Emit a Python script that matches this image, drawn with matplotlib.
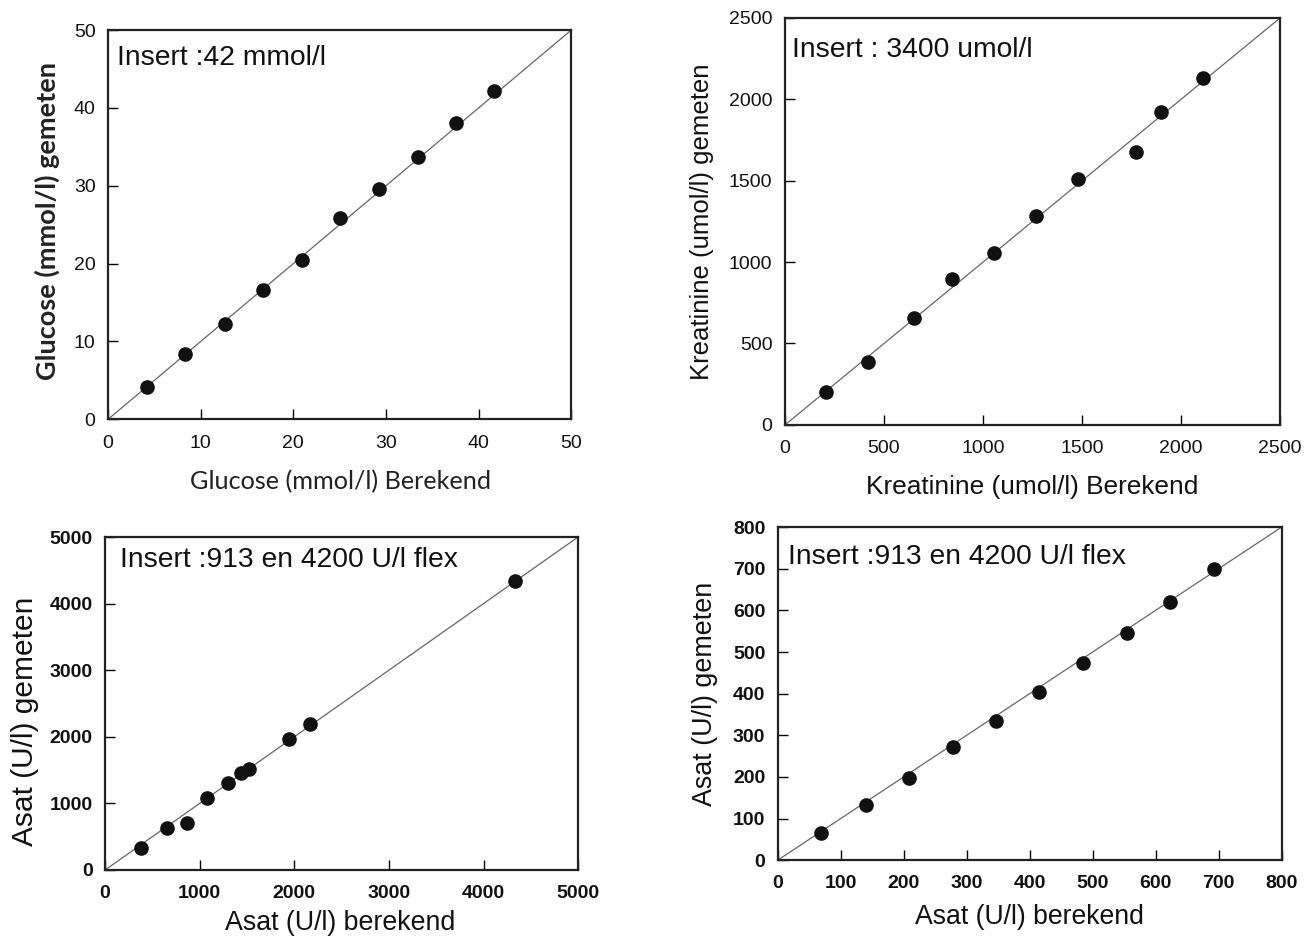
import matplotlib
matplotlib.use("Agg")
import matplotlib.pyplot as plt

# Glucose
glu_x = [4.2, 8.3, 12.6, 16.7, 20.9, 25.0, 29.2, 33.4, 37.6, 41.7]
glu_y = [4.1, 8.4, 12.3, 16.6, 20.5, 25.8, 29.6, 33.7, 38.1, 42.2]
# Kreatinine
kre_x = [207, 419, 651, 844, 1054, 1266, 1477, 1770, 1900, 2112]
kre_y = [200, 385, 656, 899, 1053, 1286, 1512, 1675, 1924, 2130]
# Asat (wide range)
asa_x = [378, 650, 868, 1082, 1296, 1439, 1523, 1946, 2164, 4333]
asa_y = [335, 625, 700, 1075, 1310, 1450, 1520, 1960, 2185, 4345]
# Asat (low range)
asb_x = [69, 140, 209, 278, 346, 415, 485, 554, 623, 692]
asb_y = [66, 133, 197, 271, 334, 403, 474, 546, 619, 699]

panels = [
    dict(x=glu_x, y=glu_y, lim=50, ticks=[0, 10, 20, 30, 40, 50],
         xlabel="Glucose (mmol/l) Berekend", ylabel="Glucose (mmol/l) gemeten",
         insert="Insert :42 mmol/l", rect=[0.0828, 0.553, 0.355, 0.415],
         bold=False, ins_pos=(0.02, 0.928),
         xl=(0.502, -0.159), yl=(-0.131, 0.51), xfs=18.2, yfs=19.5),
    dict(x=kre_x, y=kre_y, lim=2500, ticks=[0, 500, 1000, 1500, 2000, 2500],
         xlabel="Kreatinine (umol/l) Berekend", ylabel="Kreatinine (umol/l) gemeten",
         insert="Insert : 3400 umol/l", rect=[0.6015, 0.547, 0.3795, 0.434],
         bold=False, ins_pos=(0.014, 0.921),
         xl=(0.5, -0.152), yl=(-0.168, 0.499), xfs=18.9, yfs=18.5),
    dict(x=asa_x, y=asa_y, lim=5000, ticks=[0, 1000, 2000, 3000, 4000, 5000],
         xlabel="Asat (U/l) berekend", ylabel="Asat (U/l) gemeten",
         insert="Insert :913 en 4200 U/l flex", rect=[0.0805, 0.0725, 0.3625, 0.355],
         bold=True, ins_pos=(0.032, 0.93),
         xl=(0.497, -0.158), yl=(-0.169, 0.447), xfs=19.3, yfs=21.5),
    dict(x=asb_x, y=asb_y, lim=800, ticks=[0, 100, 200, 300, 400, 500, 600, 700, 800],
         xlabel="Asat (U/l) berekend", ylabel="Asat (U/l) gemeten",
         insert="Insert :913 en 4200 U/l flex", rect=[0.596, 0.083, 0.386, 0.355],
         bold=True, ins_pos=(0.02, 0.91),
         xl=(0.499, -0.171), yl=(-0.145, 0.498), xfs=19.2, yfs=19.4),
]

fig = plt.figure(figsize=(13.05, 9.38), dpi=100)
plt.rcParams['font.family'] = ['Liberation Sans', 'DejaVu Sans']

for i, p in enumerate(panels):
    ax = fig.add_axes(p["rect"])
    lim = p["lim"]
    ax.plot([0, lim], [0, lim], color="#666666", lw=0.9, zorder=1)
    ax.plot(p["x"], p["y"], "o", color="#111111", ms=9.5, zorder=2)
    ax.set_xlim(0, lim)
    ax.set_ylim(0, lim)
    ax.set_xticks(p["ticks"])
    ax.set_yticks(p["ticks"])
    fw = "bold" if p["bold"] else "normal"
    ax.tick_params(direction="in", length=7, width=1.0, labelsize=14)
    ax.tick_params(axis="x", pad=11)
    ax.tick_params(axis="y", pad=9)
    for lab in ax.get_xticklabels() + ax.get_yticklabels():
        lab.set_fontweight(fw)
        lab.set_color("#111111")
    for s in ax.spines.values():
        s.set_linewidth(1.6)
        s.set_color("#222222")
    if i == 0:
        ax.set_xlabel(p["xlabel"], fontsize=p["xfs"], family=["Lato", "DejaVu Sans"],
                      color="#222222", va="center", ha="center")
        ax.set_ylabel(p["ylabel"], fontsize=p["yfs"], family=["Lato", "DejaVu Sans"],
                      fontweight="bold", color="#222222", va="center", ha="center")
    else:
        ax.set_xlabel(p["xlabel"], fontsize=p["xfs"], color="#111111", va="center", ha="center")
        ax.set_ylabel(p["ylabel"], fontsize=p["yfs"], color="#111111", va="center", ha="center")
    ax.xaxis.set_label_coords(*p["xl"])
    ax.yaxis.set_label_coords(*p["yl"])
    ax.text(p["ins_pos"][0], p["ins_pos"][1], p["insert"], transform=ax.transAxes,
            fontsize=20.3, va="center", ha="left", color="#111111")

fig.savefig("out.png", dpi=100, facecolor="white")
